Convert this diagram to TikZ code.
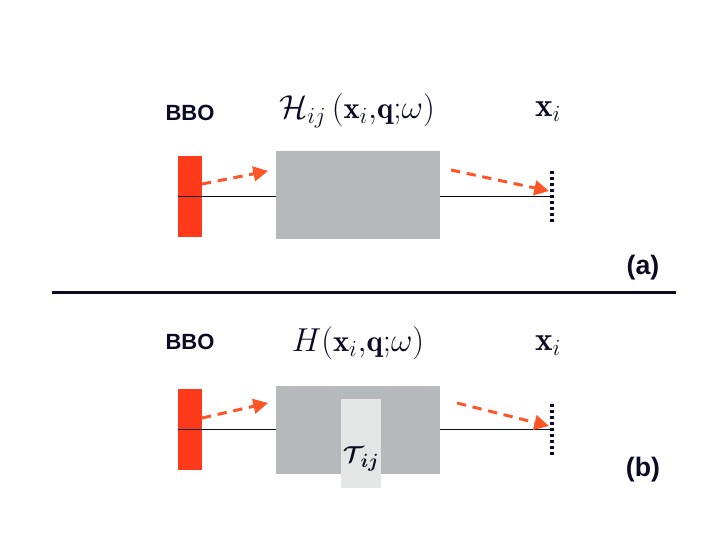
\documentclass[tikz,border=0pt]{standalone}
\usepackage{amsmath,bm}
\usepackage{fontspec}
\newfontfamily\labfont{Liberation Sans}
\usetikzlibrary{arrows.meta}
\definecolor{redc}{HTML}{FF3A1A}
\definecolor{arrc}{HTML}{FF5628}
\definecolor{grayc}{HTML}{B6B9BB}
\definecolor{lightc}{HTML}{E4E5E5}
\definecolor{textc}{HTML}{0B0B26}
\begin{document}
\begin{tikzpicture}[x=0.75pt,y=-0.75pt,
  crystal/.style={fill=redc,draw=none,minimum width=18pt,minimum height=60.75pt,inner sep=0pt},
  optbox/.style={fill=grayc,draw=none,minimum width=123pt,minimum height=66pt,inner sep=0pt},
  innerbox/.style={fill=lightc,draw=none,minimum width=30pt,minimum height=66.75pt,inner sep=0pt},
  axis/.style={draw=textc,line width=0.75pt},
  beam/.style={draw=arrc,line width=2.25pt,dash pattern=on 7pt off 5pt,-{Triangle[length=11pt,width=11pt,fill=arrc]}},
  screen/.style={draw=textc,line width=2.4pt,dash pattern=on 2.2pt off 2.3pt},
  sanslab/.style={text=textc,font=\labfont\bfseries\fontsize{16.5}{20}\selectfont,inner sep=0pt},
  panellab/.style={text=textc,font=\labfont\bfseries\fontsize{20}{24}\selectfont,inner sep=0pt},
  mathlab/.style={text=textc,font=\fontsize{23}{27}\selectfont,inner sep=0pt}]
\useasboundingbox (0,0) rectangle (706,556);
\fill[white] (0,0) rectangle (706,556);

% ---------- panel (a)
\node[crystal] (redA) at (190,196.5) {};
\coordinate (scrA) at (552,196);
\draw[axis] (redA.west |- scrA) -- (scrA);
\node[optbox] (boxA) at (358,195) {};
\coordinate (scrAtop) at (552,171);
\coordinate (scrAbot) at (552,223);
\draw[screen] (scrAtop) -- (scrAbot);
\coordinate (a1s) at (202,184);
\coordinate (a1e) at (268,171);
\draw[beam] (a1s) -- (a1e);
\coordinate (a2s) at (451,170);
\coordinate (a2e) at (549,191);
\draw[beam] (a2s) -- (a2e);
\node[sanslab] (bboA) at (190,113) {BBO};
\node[mathlab] (hA) at (357,111) {$\mathcal{H}_{ij}\,(\mathbf{x}_i{,}\mathbf{q}{;}\omega)$};
\node[mathlab,font=\fontsize{25}{29}\selectfont] (xA) at (548,112) {$\mathbf{x}_i$};
\node[panellab] (labA) at (643,268) {(a)};

% separator
\coordinate (sepL) at (52,292);
\coordinate (sepR) at (676,292);
\draw[draw=textc,line width=2.25pt] (sepL) -- (sepR);

% ---------- panel (b)
\node[crystal] (redB) at (190,429) {};
\coordinate (scrB) at (552,429);
\draw[axis] (redB.west |- scrB) -- (scrB);
\node[optbox] (boxB) at (358,429.5) {};
\node[innerbox] (tB) at (361,443.5) {};
\node[text=textc,font=\fontsize{19}{22}\selectfont,inner sep=0pt] (tlab) at (361,459) {$\bm{\mathcal{T}}_{\!\bm{ij}}$};
\coordinate (scrBtop) at (552,404);
\coordinate (scrBbot) at (552,456);
\draw[screen] (scrBtop) -- (scrBbot);
\coordinate (b1s) at (202,418);
\coordinate (b1e) at (268,403);
\draw[beam] (b1s) -- (b1e);
\coordinate (b2s) at (457,403);
\coordinate (b2e) at (549,426);
\draw[beam] (b2s) -- (b2e);
\node[sanslab] (bboB) at (190,342) {BBO};
\node[mathlab] (hB) at (358,343) {$H(\mathbf{x}_i{,}\mathbf{q}{;}\omega)$};
\node[mathlab,font=\fontsize{25}{29}\selectfont] (xB) at (548,346) {$\mathbf{x}_i$};
\node[panellab] (labB) at (643,470) {(b)};
\end{tikzpicture}
\end{document}
